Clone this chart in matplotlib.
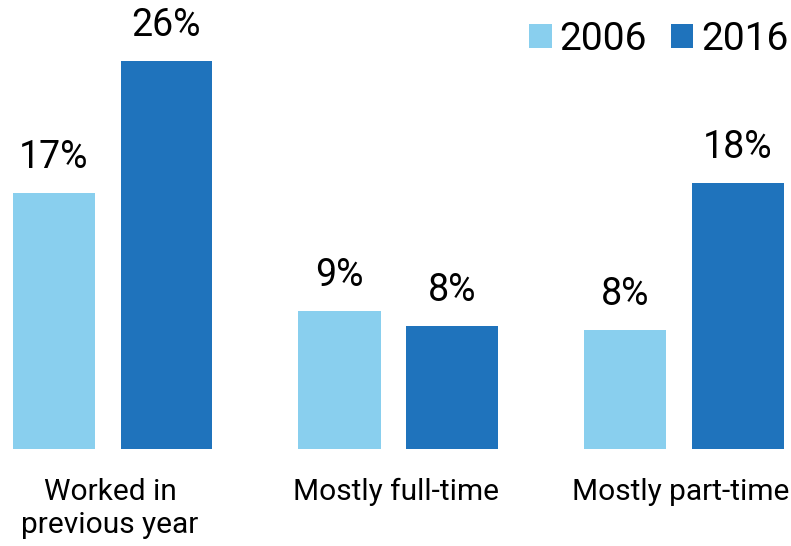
import matplotlib.pyplot as plt
import numpy as np

categories = ["Worked in\nprevious year", "Mostly full-time", "Mostly part-time"]
years = ["2006", "2016"]
values_2006 = [17.1, 9.2, 7.95]
values_2016 = [25.95, 8.2, 17.8]

color_2006 = "#89CFEE"
color_2016 = "#1F73BC"

plt.rcParams['font.family'] = ['Roboto', 'DejaVu Sans']

fig = plt.figure(figsize=(7.91, 5.46), dpi=100)
ax = fig.add_axes([0, 0, 1, 1])

index = np.arange(len(categories))
off_light = -0.196
off_dark = 0.198
w_light = 0.29
w_dark = 0.322

ax.bar(index + off_light, values_2006, width=w_light, color=color_2006, label=years[0])
ax.bar(index + off_dark, values_2016, width=w_dark, color=color_2016, label=years[1])

# value labels above bars
for i in range(len(categories)):
    ax.text(index[i] + off_light, values_2006[i] + 1.15, "{}%".format(round(values_2006[i])),
            ha='center', va='bottom', fontsize=27, color='black')
    ax.text(index[i] + off_dark, values_2016[i] + 1.15, "{}%".format(round(values_2016[i])),
            ha='center', va='bottom', fontsize=27, color='black')

# category labels under groups
for i in range(len(categories)):
    ax.text(index[i], -1.95, categories[i], ha='center', va='top',
            fontsize=21.5, color='black', linespacing=1.2)

ax.set_xlim(-0.385, 2.385)
ax.set_ylim(-6.49, 30.03)
ax.axis('off')

leg = ax.legend(loc='upper right', bbox_to_anchor=(1.026, 1.005), ncol=2, frameon=False,
                fontsize=28, handlelength=0.58, handleheight=0.58,
                handletextpad=0.2, columnspacing=0.6, borderaxespad=0.2)

plt.savefig("out.png", format="png")
plt.close()
